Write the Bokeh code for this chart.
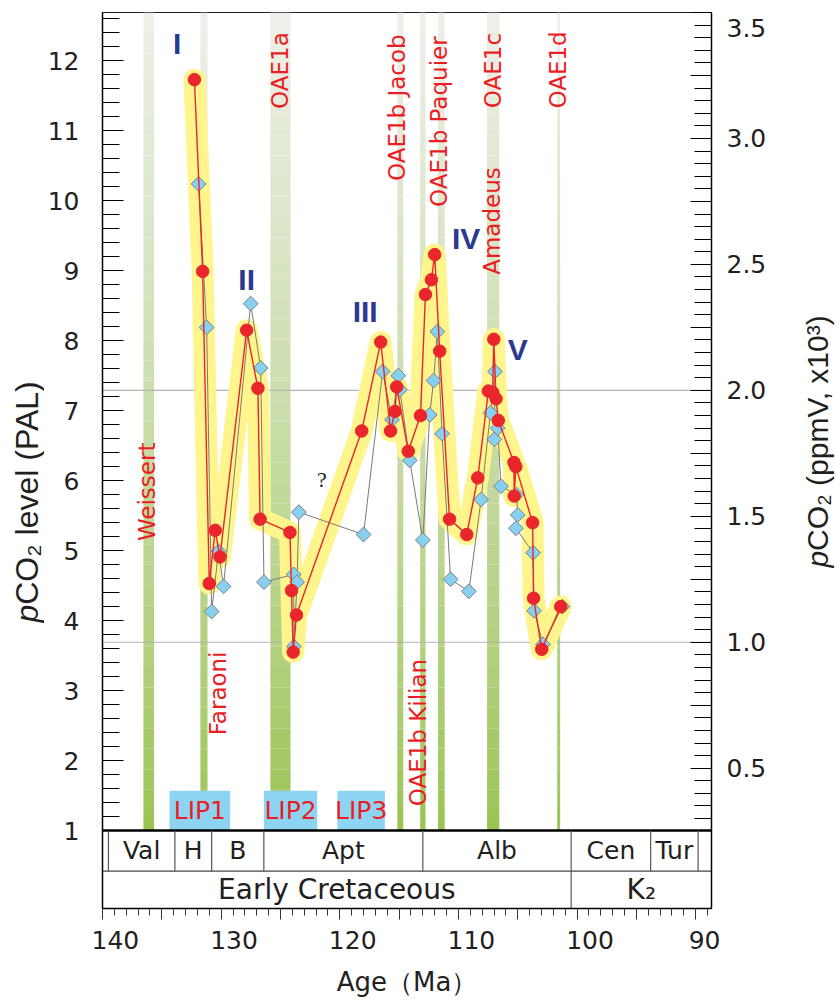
import math
import numpy as np
from bokeh.plotting import figure
from bokeh.layouts import row
from bokeh.models import Range1d, LinearAxis, FixedTicker
from bokeh.core.properties import value
from bokeh.embed import file_html
from bokeh.resources import INLINE

# ---------------- data ----------------
red_age = [132.25, 131.56, 131.0, 130.5, 130.1, 127.85, 126.9, 126.72, 124.2, 124.07,
           123.93, 123.65, 118.15, 116.55, 115.72, 115.35, 115.2, 114.23, 113.2, 112.78,
           112.28, 112.0, 111.58, 110.75, 109.3, 108.37, 107.48, 107.11, 107.02, 106.83,
           106.64, 105.32, 105.3, 105.16, 103.75, 103.67, 102.98, 101.38]
red_pal = [11.73, 8.99, 4.53, 5.29, 4.91, 8.15, 7.32, 5.45, 5.26, 4.43,
           3.55, 4.08, 6.71, 7.98, 6.71, 6.99, 7.34, 6.42, 6.93, 8.66,
           8.87, 9.23, 7.85, 5.45, 5.23, 6.04, 7.28, 7.26, 8.02, 7.17,
           6.86, 6.26, 5.78, 6.2, 5.40, 4.32, 3.59, 4.2]

blue_age = [131.9, 131.22, 130.8, 130.22, 129.8, 127.51, 126.67, 126.39, 123.88, 123.87,
            123.6, 123.45, 118.0, 116.39, 115.6, 115.07, 114.94, 114.1, 113.0, 112.42,
            112.09, 111.78, 111.38, 110.66, 109.12, 108.09, 107.3, 106.92, 106.97, 106.69,
            106.41, 105.1, 105.0, 105.15, 103.7, 103.62, 102.87, 101.24]
blue_pal = [10.24, 8.19, 4.13, 4.99, 4.49, 8.53, 7.61, 4.55, 4.66, 3.63,
            4.55, 5.55, 5.23, 7.56, 6.87, 7.5, 7.3, 6.29, 5.15, 6.94,
            7.43, 8.13, 6.67, 4.59, 4.42, 5.73, 6.97, 7.56, 6.59, 6.75,
            5.92, 5.8, 5.51, 5.32, 4.97, 4.14, 3.66, 4.2]

event_age = [136.1, 131.45, 125.0, 114.9, 113.0, 111.44, 107.07, 101.55]
event_width = [0.9, 0.6, 1.7, 0.5, 0.45, 0.56, 1.03, 0.25]

event_labels = ["Weissert", "Faraoni", "OAE1a", "OAE1b Jacob", "OAE1b Kilian",
                "OAE1b Paquier", "OAE1c", "Amadeus", "OAE1d"]
event_label_age = [136.24, 130.3, 125.06, 115.22, 113.4, 111.61, 107.09, 107.17, 101.63]
event_label_pal = [5.84, 2.96, 11.86, 11.33, 2.4, 11.13, 11.86, 9.71, 11.87]

phases = ["I", "II", "III", "IV", "V"]
phase_age = [133.7, 127.85, 117.86, 109.35, 105.0]
phase_pal = [12.24, 8.88, 8.42, 9.46, 7.87]

lip_names = ["LIP1", "LIP2", "LIP3"]
lip_start = [134.35, 126.4, 120.2]
lip_end = [129.24, 121.9, 116.2]
lip_top = 1.57

stage_names = ["", "Val", "H", "B", "Apt", "Alb", "Cen", "Tur", ""]
stage_bounds = [140.0, 139.5, 133.9, 130.8, 126.4, 113.0, 100.5, 93.8, 89.8, 88.67]
era_names = ["Early Cretaceous", "K₂"]
era_bounds = [140.0, 100.5, 88.67]

x_major_ticks = [140, 135, 130, 125, 120, 115, 110, 105, 100, 95, 90]
x_minor_ticks = list(range(89, 141))
x_tick_labels = [140, 130, 120, 110, 100, 90]
pal_ticks = list(range(1, 13))
pal_minor = [round(1 + 0.2 * i, 2) for i in range(0, 59)]
ppm_ticks = [round(0.5 + 0.25 * i, 2) for i in range(0, 13)]
ppm_minor = [round(0.30 + 0.05 * i, 2) for i in range(0, 64)]
ppm_labels = [0.5, 1.0, 1.5, 2.0, 2.5, 3.0, 3.5]
ref_ppm = [1.0, 2.0]

left_title = ["p", "CO₂ level (PAL)"]
right_title = ["p", "CO₂ (ppmV, x10³)"]

# ---------------- layout constants ----------------
X_START, X_END = 140.0, 88.67
Y_BOT, Y_TOP = -0.114, 12.69
PPM_BOT, PPM_TOP = -0.057, 3.5
STAGE_TOP, STAGE_MID = 1.0, 0.419
LAB_SHIFT = 1.09

H = 1000
TOP, FRAME_H = 12, 896
BOTTOM = H - TOP - FRAME_H
LEFT_W, MAIN_W, RIGHT_W = 44, 676, 115
MAIN_LB, FRAME_W = 55, 612
MAIN_RB = MAIN_W - MAIN_LB - FRAME_W

RED = "#e8262c"
TXT_RED = "#ec1c24"
BLUE_TXT = "#2b3990"
DARK = "#231f20"

p = figure(width=MAIN_W, height=H, output_backend="svg", toolbar_location=None,
           x_range=Range1d(X_START, X_END), y_range=Range1d(Y_BOT, Y_TOP),
           min_border_left=MAIN_LB, min_border_right=MAIN_RB,
           min_border_top=TOP, min_border_bottom=BOTTOM)
p.extra_y_ranges = {"ppm": Range1d(PPM_BOT, PPM_TOP)}
p.extra_x_ranges = {"xlab": Range1d(X_START + LAB_SHIFT, X_END + LAB_SHIFT)}
p.xgrid.visible = False
p.ygrid.visible = False
p.outline_line_color = "#222222"
p.outline_line_width = 1

# ---- green event bands with vertical gradient ----
n_seg = 40
edges = np.linspace(STAGE_TOP, Y_TOP, n_seg + 1)
c_bot = np.array([152, 195, 80])
c_top = np.array([238, 240, 234])
bl, br, bb, bt, bc = [], [], [], [], []
for c, w in zip(event_age, event_width):
    for i in range(n_seg):
        t = ((edges[i] + edges[i + 1]) / 2 - STAGE_TOP) / (Y_TOP - STAGE_TOP)
        col = c_bot + (c_top - c_bot) * t ** 0.8
        bl.append(c + w / 2); br.append(c - w / 2)
        bb.append(edges[i]); bt.append(edges[i + 1])
        bc.append("#%02x%02x%02x" % tuple(int(v) for v in col))
p.quad(left=bl, right=br, bottom=bb, top=bt, fill_color=bc, line_color=None)

# reference lines (1000 and 2000 ppmV)
p.segment(x0=[X_START] * len(ref_ppm), x1=[X_END] * len(ref_ppm), y0=ref_ppm, y1=ref_ppm,
          y_range_name="ppm", line_color="#b4b4b4", line_width=1.2)

# yellow envelope
p.line(red_age, red_pal, line_width=22, line_color="#fff58c", line_join="round", line_cap="round")

# LIP boxes
p.quad(left=lip_start, right=lip_end, bottom=[STAGE_TOP] * 3, top=[lip_top] * 3,
       fill_color="#8dd3f2", line_color=None)
p.text(x=[(a + b) / 2 for a, b in zip(lip_start, lip_end)], y=[(STAGE_TOP + lip_top) / 2] * 3,
       text=lip_names, text_font=value("DejaVu Sans"), text_font_size="25px",
       text_color=TXT_RED, text_align="center", text_baseline="middle")

# event labels
p.text(x=event_label_age, y=event_label_pal, text=event_labels, angle=math.pi / 2,
       text_font=value("DejaVu Sans"), text_font_size="23px", text_color=TXT_RED,
       text_align="center", text_baseline="middle")

# phase numerals
p.text(x=phase_age, y=phase_pal, text=phases, text_font=value("Liberation Sans"),
       text_font_style="bold", text_font_size="30px", text_color=BLUE_TXT,
       text_align="center", text_baseline="middle")

p.text(x=[121.5], y=[6.01], text=["?"], text_font=value("Liberation Serif"),
       text_font_size="22px", text_color="#222222", text_align="center", text_baseline="middle")

# blue diamond series
p.line(blue_age, blue_pal, line_color="#7a7a7a", line_width=1)
p.scatter(blue_age, blue_pal, marker="square", angle=math.pi / 4, size=10.5,
          fill_color="#87d0f0", line_color="#7f7f7f", line_width=1)

# red circle series
p.line(red_age, red_pal, line_color=RED, line_width=1.4)
p.scatter(red_age, red_pal, marker="circle", size=12.5, fill_color=RED, line_color=RED)

# ---- stage / era box ----
p.segment(x0=[X_START], x1=[X_END], y0=[STAGE_TOP], y1=[STAGE_TOP], line_color="black", line_width=2.5)
p.segment(x0=[X_START], x1=[X_END], y0=[STAGE_MID], y1=[STAGE_MID], line_color="#444444", line_width=1.2)
inner = stage_bounds[1:-1]
p.segment(x0=inner, x1=inner, y0=[STAGE_MID] * len(inner), y1=[STAGE_TOP] * len(inner),
          line_color="#555555", line_width=1.2)
p.segment(x0=era_bounds[1:-1], x1=era_bounds[1:-1], y0=[Y_BOT], y1=[STAGE_MID],
          line_color="#555555", line_width=1.2)
st_x = [(a + b) / 2 for a, b, n in zip(stage_bounds[:-1], stage_bounds[1:], stage_names) if n]
st_t = [n for n in stage_names if n]
p.text(x=st_x, y=[(STAGE_TOP + STAGE_MID) / 2] * len(st_t), text=st_t,
       text_font=value("DejaVu Sans"), text_font_size="25px", text_color=DARK,
       text_align="center", text_baseline="middle")
p.text(x=[(a + b) / 2 for a, b in zip(era_bounds[:-1], era_bounds[1:])],
       y=[(STAGE_MID + Y_BOT) / 2] * len(era_names), text=era_names,
       text_font=value("DejaVu Sans"), text_font_size="28px", text_color=DARK,
       text_align="center", text_baseline="middle")

# ---- axes ----
xa = p.xaxis[0]
xa.ticker = FixedTicker(ticks=x_major_ticks, minor_ticks=x_minor_ticks)
xa.major_tick_out = 11
xa.major_tick_in = 0
xa.minor_tick_out = 7
xa.minor_tick_in = 0
xa.major_label_text_color = None
xa.major_label_text_font_size = "1px"
xa.major_label_standoff = 0
xa.axis_line_width = 1.5
xa.major_tick_line_color = "#333333"
xa.minor_tick_line_color = "#333333"

xl = LinearAxis(x_range_name="xlab", ticker=FixedTicker(ticks=x_tick_labels, minor_ticks=[]),
                axis_line_color=None, major_tick_in=0, major_tick_out=0,
                minor_tick_in=0, minor_tick_out=0, major_label_standoff=11,
                axis_label="Age（Ma）", axis_label_standoff=15)
xl.major_label_text_font = "DejaVu Sans"
xl.major_label_text_font_size = "25px"
xl.major_label_text_color = DARK
xl.axis_label_text_font = "DejaVu Sans"
xl.axis_label_text_font_size = "26px"
xl.axis_label_text_font_style = "normal"
xl.axis_label_text_color = DARK
p.add_layout(xl, "below")

ya = p.yaxis[0]
ya.ticker = FixedTicker(ticks=pal_ticks, minor_ticks=pal_minor)
ya.major_tick_in = 21
ya.major_tick_out = 0
ya.minor_tick_in = 17
ya.minor_tick_out = 0
ya.major_label_standoff = 23
ya.major_label_text_font = "DejaVu Sans"
ya.major_label_text_font_size = "25px"
ya.major_label_text_color = DARK
ya.axis_line_width = 1.5

yr = LinearAxis(y_range_name="ppm", ticker=FixedTicker(ticks=ppm_ticks, minor_ticks=ppm_minor),
                major_tick_in=21, major_tick_out=0, minor_tick_in=17, minor_tick_out=0,
                major_label_standoff=0)
yr.major_label_text_color = None
yr.major_label_text_font_size = "1px"
yr.axis_line_width = 1.5
p.add_layout(yr, "right")

# ---- side panels (axis titles, right tick labels) aligned with the main frame ----
px_per_pal = FRAME_H / (Y_TOP - Y_BOT)
px_per_ppm = FRAME_H / (PPM_TOP - PPM_BOT)


def side_fig(width, x0, lo, hi):
    f = figure(width=width, height=H, output_backend="svg", toolbar_location=None,
               x_range=Range1d(x0, x0 + width), y_range=Range1d(lo, hi),
               min_border_left=0, min_border_right=0,
               min_border_top=TOP, min_border_bottom=BOTTOM,
               x_axis_location=None, y_axis_location=None)
    f.outline_line_color = None
    f.xgrid.visible = False
    f.ygrid.visible = False
    return f


lf = side_fig(LEFT_W, 0, Y_BOT, Y_TOP)
rf = side_fig(RIGHT_W, LEFT_W + MAIN_W, PPM_BOT, PPM_TOP)


def vtitle(f, x, center, px_per, parts, size, widths_em):
    total = sum(widths_em) * size
    y = center - total / 2 / px_per
    for (txt, w), style in zip(zip(parts, widths_em), ["italic", "normal"]):
        f.text(x=[x], y=[y], text=[txt], angle=math.pi / 2, text_font=value("Liberation Sans"),
               text_font_style=style, text_font_size=f"{size}px", text_color=DARK,
               text_align="left", text_baseline="middle")
        y += w * size / px_per


vtitle(lf, 26, 5.7, px_per_pal, left_title, 32, [0.556, 7.0])
vtitle(rf, 817, 1.80, px_per_ppm, right_title, 30, [0.556, 7.9])

# right tick labels (kept inside the panel where the top one would be cut)
lab_y_page = [(PPM_TOP - v) * px_per_ppm for v in ppm_labels]
lab_off = [max(0.0, 15.0 - yy) for yy in lab_y_page]
rf.text(x=[LEFT_W + MAIN_W - MAIN_RB + 15] * len(ppm_labels), y=ppm_labels,
        text=["%.1f" % v for v in ppm_labels], y_offset=lab_off,
        text_font=value("DejaVu Sans"), text_font_size="25px", text_color=DARK,
        text_align="left", text_baseline="middle")

layout = row(lf, p, rf)
open("out.html", "w").write(file_html(layout, INLINE))
